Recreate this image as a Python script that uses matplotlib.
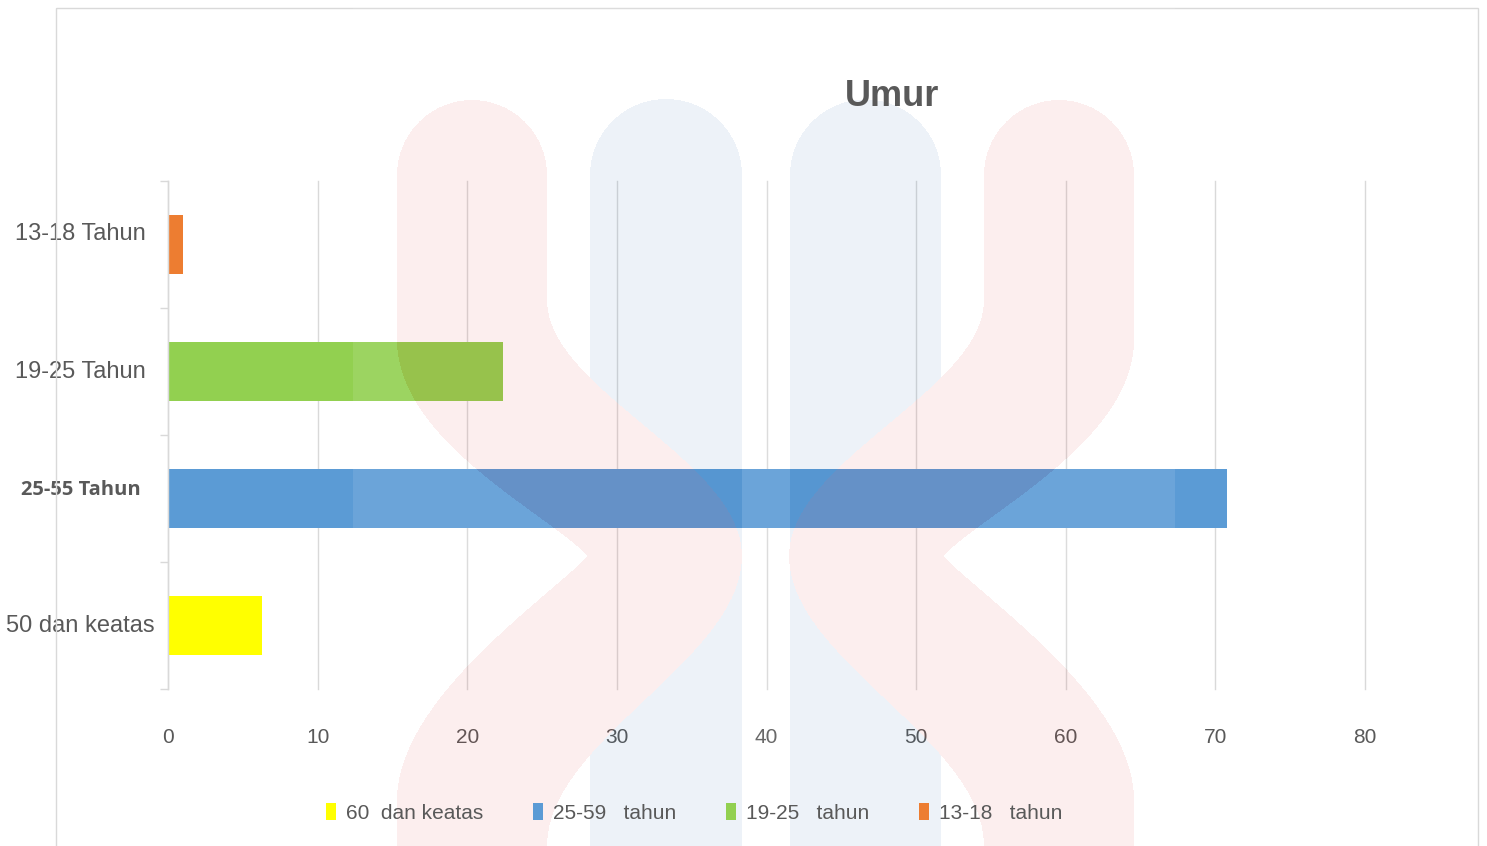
import numpy as np
import matplotlib.pyplot as plt
from matplotlib.patches import Patch, Rectangle
from matplotlib.path import Path
from matplotlib import transforms

# data
categories = ["13-18 Tahun", "19-25 Tahun", "25-55 Tahun", "50 dan keatas"]
values = [1.0, 22.4, 70.8, 6.3]
bar_colors = ["#ED7D31", "#92D050", "#5B9BD5", "#FFFF00"]
legend_labels = ["60  dan keatas", "25-59   tahun", "19-25   tahun", "13-18   tahun"]
legend_colors = ["#FFFF00", "#5B9BD5", "#92D050", "#ED7D31"]
x_ticks = np.arange(0, 90, 10)

W, H = 1487, 846
TEXT = "#595959"
GRID = "#d9d9d9"


def bezier(p0, p1, p2, p3, n=30):
    t = np.linspace(0, 1, n)[:, None]
    p0, p1, p2, p3 = map(np.array, (p0, p1, p2, p3))
    return (1 - t) ** 3 * p0 + 3 * (1 - t) ** 2 * t * p1 + 3 * (1 - t) * t ** 2 * p2 + t ** 3 * p3


def arc_top(cx, cy, r, n=40):
    th = np.linspace(np.pi, 0, n)
    return np.column_stack([cx + r * np.cos(th), cy - r * np.sin(th)])


def pillar(x0, x1, top=175, bottom=900):
    r = (x1 - x0) / 2
    pts = [[x0, bottom]] + arc_top(x0 + r, top, r).tolist() + [[x1, bottom]]
    return np.array(pts)


def pink_arm():
    # left arm of the watermark, pixel coords (y down)
    pts = arc_top(472, 175, 75).tolist()
    pts += [[547, 300]]
    pts += bezier((547, 300), (547, 390), (742, 460), (742, 556)).tolist()
    pts += bezier((742, 556), (742, 660), (547, 740), (547, 846)).tolist()
    pts += [[547, 900], [397, 900], [397, 800]]
    pts += bezier((397, 800), (397, 700), (545, 600), (588, 556)).tolist()
    pts += bezier((588, 556), (545, 512), (397, 440), (397, 340)).tolist()
    return np.array(pts)


def watermark_layer():
    gx, gy = np.meshgrid(np.arange(W) + 0.5, np.arange(H) + 0.5)
    pts = np.column_stack([gx.ravel(), gy.ravel()])
    rgba = np.zeros((H * W, 4))
    glow = (pts[:, 0] > 353) & (pts[:, 0] < 1175)
    rgba[glow] = [1, 1, 1, 0.1]
    for x0, x1 in [(590, 742), (790, 941)]:
        inside = Path(pillar(x0, x1)).contains_points(pts)
        rgba[inside] = [30 / 255, 100 / 255, 170 / 255, 0.08]
    left_arm = pink_arm()
    right_arm = left_arm.copy()
    right_arm[:, 0] = 1531 - right_arm[:, 0]
    for arm in [left_arm, right_arm]:
        inside = Path(arm).contains_points(pts)
        rgba[inside] = [220 / 255, 40 / 255, 40 / 255, 0.08]
    return rgba.reshape(H, W, 4)


fig = plt.figure(figsize=(W / 100, H / 100), dpi=100)
fig.patch.set_facecolor("white")
px = transforms.Affine2D().scale(1 / W, -1 / H).translate(0, 1) + fig.transFigure

ax = fig.add_axes([168 / W, 1 - 689 / H, (1365 - 168) / W, (689 - 181) / H])
ypos = np.arange(len(categories))[::-1]
ax.barh(ypos, values, height=0.46, color=bar_colors, zorder=2)

ax.set_xlim(0, 80)
ax.set_ylim(-0.5, 3.5)
ax.set_xticks(x_ticks)
ax.set_yticks(ypos)
ax.set_yticklabels(categories)
ax.set_yticks(np.arange(-0.5, 4, 1), minor=True)
ax.grid(axis="x", color=GRID, lw=1)
ax.set_axisbelow(True)
for line in ax.get_xgridlines():
    line.set_clip_on(False)

for s in ["top", "right", "bottom"]:
    ax.spines[s].set_visible(False)
ax.spines["left"].set_color(GRID)
ax.spines["left"].set_linewidth(1)

ax.tick_params(axis="x", length=0, pad=28, labelsize=15, labelcolor=TEXT)
ax.tick_params(axis="y", which="major", length=0, pad=63, labelcolor=TEXT)
ax.tick_params(axis="y", which="minor", length=6, color=GRID, width=1)
for lab in ax.get_xticklabels():
    lab.set_family("Liberation Sans")

# labels sit a little above the bar centres in the original
label_shift = [13, 2, 11, 2]
for i, lab in enumerate(ax.get_yticklabels()):
    lab.set_horizontalalignment("center")
    if categories[i] == "25-55 Tahun":
        lab.set_family("Open Sans")
        lab.set_fontweight("bold")
        lab.set_fontsize(14.5)
    else:
        lab.set_family("Liberation Sans")
        lab.set_fontsize(17)
    lab.set_transform(lab.get_transform() +
                      transforms.ScaledTranslation(0, label_shift[i] / 100, fig.dpi_scale_trans))

fig.text(892 / W, 1 - 97 / H, "Umur", ha="center", va="center", fontsize=26,
         fontweight="bold", color=TEXT, family="Liberation Sans", zorder=10)

# chart border
fig.add_artist(Rectangle((56, 8), 1478 - 56, 900, transform=px, fill=False,
                         edgecolor=GRID, lw=1, zorder=1))

# faint watermark drawn over the plot
fig.figimage(watermark_layer(), xo=0, yo=0, origin="upper", zorder=3)

handles = [Patch(facecolor=c, edgecolor="none") for c in legend_colors]
leg = fig.legend(handles, legend_labels, loc="center", bbox_to_anchor=(694 / W, 1 - 813 / H),
                 ncol=4, frameon=False, handlelength=0.5, handleheight=0.85,
                 handletextpad=0.45, columnspacing=2.4,
                 prop={"family": "Liberation Sans", "size": 15})
for t in leg.get_texts():
    t.set_color(TEXT)
leg.set_zorder(10)

fig.savefig("out.png", dpi=100)
